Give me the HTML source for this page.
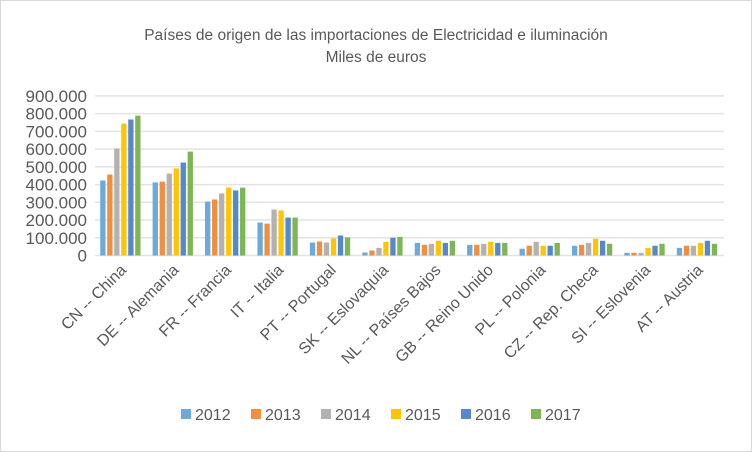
<!DOCTYPE html>
<html><head><meta charset="utf-8"><style>body{margin:0;background:#fff}svg{display:block}</style></head><body>
<svg width="752" height="452" xmlns="http://www.w3.org/2000/svg" font-family="Liberation Sans, sans-serif">
<rect x="0.5" y="0.5" width="751" height="451" fill="#fff" stroke="#d9d9d9"/>
<text x="376" y="40" text-anchor="middle" font-size="15.5" fill="#595959">Países de origen de las importaciones de  Electricidad e iluminación</text>
<text x="376" y="62" text-anchor="middle" font-size="15.5" fill="#595959">Miles de euros</text>
<g id="grid" stroke="#e3e3e3" stroke-width="1.5"></g>
<g id="ylab" font-size="17" fill="#595959" text-anchor="end"></g>
<g id="bars"></g>
<g id="xlab" font-size="16" fill="#595959" text-anchor="end"></g>
<g id="leg" font-size="16" fill="#595959"></g>
</svg>
<script>
const ns="http://www.w3.org/2000/svg";
function el(p,t,a,txt){const e=document.createElementNS(ns,t);for(const k in a)e.setAttribute(k,a[k]);if(txt)e.textContent=txt;document.getElementById(p).appendChild(e);}
const y0=255.5,per=17.73,x0=95,x1=724;
for(let i=0;i<=9;i++){const y=y0-i*per;el('grid','line',{x1:x0,x2:x1,y1:y,y2:y});el('ylab','text',{x:87,y:y+6},i?(i*100)+'.000':'0');}
const cols=['#6AAADC','#F28F3F','#B2B2B2','#FFC600','#5588CF','#7FB654'];
const cats=['CN -- China','DE -- Alemania','FR -- Francia','IT -- Italia','PT -- Portugal','SK -- Eslovaquia','NL -- Países Bajos','GB -- Reino Unido','PL -- Polonia','CZ -- Rep. Checa','SI -- Eslovenia','AT -- Austria'];
const d=[[423,457,603,744,767,789],[412,417,462,491,524,586],[304,316,350,383,367,383],[186,180,259,254,214,214],[73,79,73,96,113,102],[17,28,43,77,100,105],[71,60,66,83,71,83],[60,60,66,77,71,71],[38,55,77,55,55,71],[55,60,71,94,83,66],[15,15,15,43,55,66],[43,55,55,71,83,66]];
const w=(x1-x0)/12;
d.forEach((r,i)=>{const cx=x0+w*(i+.5);r.forEach((v,j)=>{const h=v/100*per;el('bars','rect',{x:cx-21+j*7,y:y0-h,width:5.3,height:h,fill:cols[j]});});
el('xlab','text',{x:cx+6,y:271,transform:`rotate(-45 ${cx+6} 271)`},cats[i]);});
['2012','2013','2014','2015','2016','2017'].forEach((t,j)=>{const x=181+j*70;el('leg','rect',{x:x,y:409,width:10,height:10,fill:cols[j]});el('leg','text',{x:x+14,y:420},t);});
</script>
</body></html>
